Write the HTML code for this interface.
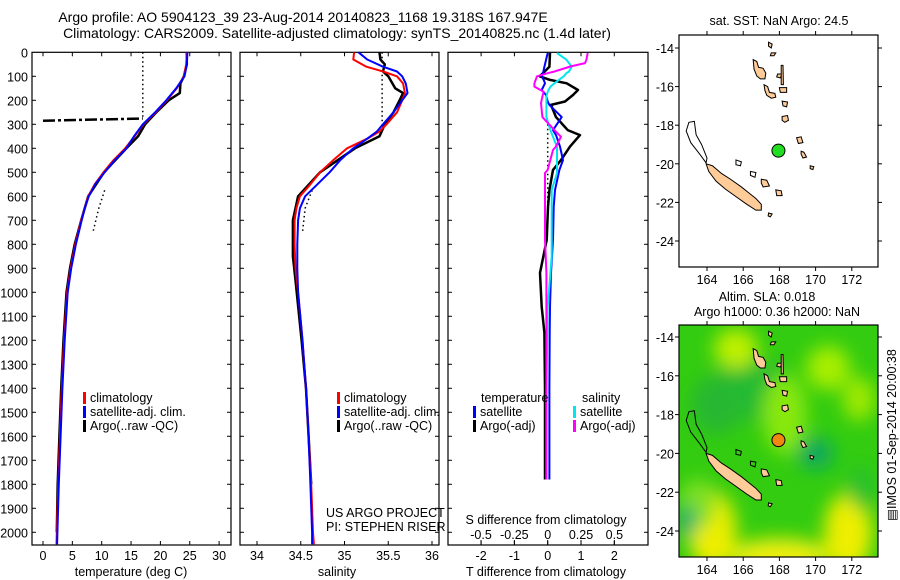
<!DOCTYPE html>
<html><head><meta charset="utf-8">
<style>
html,body{margin:0;padding:0;background:#fff;}
svg{display:block;font-family:"Liberation Sans",sans-serif;}
text{font-size:12.5px;fill:#000;}
</style></head>
<body>
<svg id="fig" width="900" height="580" viewBox="0 0 900 580" xmlns="http://www.w3.org/2000/svg">
<defs>
<filter id="blur" x="-50%" y="-50%" width="200%" height="200%"><feGaussianBlur stdDeviation="9"/></filter>
<clipPath id="clipMap2"><rect x="679" y="325" width="199" height="232"/></clipPath>
<clipPath id="clipMap1"><rect x="679" y="35" width="199" height="232"/></clipPath>
</defs>
<text x="303" y="22" text-anchor="middle" style="font-size:14px">Argo profile: AO 5904123_39 23-Aug-2014 20140823_1168 19.318S 167.947E</text>
<text x="337" y="38" text-anchor="middle" style="font-size:14px">Climatology: CARS2009. Satellite-adjusted climatology: synTS_20140825.nc (1.4d later)</text>
<g id="layer"></g>
</svg>
<script>
// ---------- data ----------
const depthT = [0,50,100,150,200,250,300,350,400,450,500,550,600,650,700,800,900,1000,1200,1400,1600,1800,2000,2050];
const tempClim = [24.5,24.4,24.0,22.8,21.1,19.2,17.1,15.6,14.0,12.0,10.3,8.8,7.7,7.1,6.5,5.5,4.7,4.1,3.6,3.2,2.9,2.6,2.35,2.3];
const tempSat  = [24.6,24.5,24.1,22.7,21.0,19.1,17.0,15.5,14.2,12.2,10.5,8.9,7.8,7.1,6.6,5.6,4.8,4.2,3.7,3.3,3.0,2.7,2.45,2.4];
const depthArgoT = [0,50,100,130,170,200,250,300,350,400,500,600,700,800,900,1000,1200,1400,1600,1800,2000];
const tempArgo = [24.5,24.5,24.0,23.4,23.3,21.4,19.3,17.4,16.2,14.2,10.4,7.7,6.5,5.4,4.6,4.0,3.5,3.1,2.8,2.5,2.35];
const depthS = [0,30,60,80,100,130,170,200,250,300,330,360,400,450,500,550,600,650,700,800,900,1000,1200,1400,1600,1800,2000,2050];
const salClim = [35.11,35.10,35.25,35.44,35.60,35.67,35.69,35.66,35.60,35.48,35.40,35.26,35.03,34.87,34.72,34.61,34.49,34.45,34.43,34.43,34.44,34.47,34.52,34.56,34.59,34.62,34.64,34.65];
const salSat  = [35.16,35.26,35.44,35.60,35.66,35.70,35.72,35.66,35.56,35.44,35.37,35.26,35.10,34.95,34.83,34.69,34.55,34.49,34.47,34.46,34.46,34.47,34.52,34.56,34.59,34.61,34.63,34.63];
const depthArgoS = [0,30,50,80,100,150,170,200,250,300,350,400,450,500,600,700,850,950,1200,1400,1600,1800];
const salArgo = [35.40,35.41,35.46,35.44,35.50,35.58,35.67,35.63,35.56,35.46,35.40,35.12,34.92,34.72,34.47,34.41,34.41,34.44,34.51,34.56,34.59,34.62];
const depthDiffT = [3,60,87,100,115,129,157,178,205,219,270,324,345,393,449,490,574,645,782,919,1061,1168,1400,1600,1780];
const diffTSat  = [0.0,-0.10,-0.14,-0.18,-0.12,-0.08,-0.18,-0.05,0.0,0.05,0.42,0.16,0.25,0.37,0.46,0.35,0.22,0.18,0.16,0.10,0.07,0.06,0.05,0.05,0.05];
const diffTArgo = [0.07,0.05,-0.14,-0.24,0.07,0.57,0.91,0.76,0.52,0.10,0.25,0.60,0.97,0.67,0.40,0.16,0.05,0.01,-0.03,-0.23,-0.18,-0.10,-0.08,-0.08,-0.08];
const depthDiffS = [3,31,45,59,80,87,100,129,143,164,184,212,270,324,352,394,407,490,503,574,645,782,850,919,1061,1400,1780];
const diffSSat  = [0.07,0.14,0.16,0.18,0.16,0.14,0.12,0.05,0.02,0.0,-0.01,-0.01,-0.01,0.02,0.04,0.07,0.07,0.07,0.07,0.03,0.03,0.03,0.03,0.02,0.0,-0.01,-0.01];
const diffSArgo = [0.30,0.29,0.28,0.17,0.05,0.0,-0.08,-0.10,-0.10,-0.03,-0.04,-0.05,-0.04,0.05,0.10,0.06,0.04,0.0,-0.02,-0.02,-0.02,-0.02,-0.015,-0.01,-0.01,-0.01,-0.01];
const tempTicks = [0,5,10,15,20,25,30];
const salTicks = [34,34.5,35,35.5,36];
const salTickLabels = ["34","34.5","35","35.5","36"];
const dTTicks = [-2,-1,0,1,2];
const dSTicks = [-0.5,-0.25,0,0.25,0.5];
const dSTickLabels = ["-0.5","-0.25","0","0.25","0.5"];
const depthTicks = [0,100,200,300,400,500,600,700,800,900,1000,1100,1200,1300,1400,1500,1600,1700,1800,1900,2000];
const lonTicks = [164,166,168,170,172];
const latTicks = [-14,-16,-18,-20,-22,-24];
const argoPos = [167.947,-19.318];

// ---------- scales ----------
const NS='http://www.w3.org/2000/svg';
const L=document.getElementById('layer');
const TOP=52.3, BOT=545;
const yD=d=>TOP+d*0.24;
const xT=t=>43+t*5.87;
const xS=s=>257+(s-34)*87.5;
const xDT=t=>547.7+t*33.3;
const xDS=s=>547.7+s*133.3;
const xLon=l=>707+(l-164)*18.1;
const yLat1=a=>48+(-14-a)*19.3;
const yLat2=a=>337+(-14-a)*19.4;

function mk(tag,attrs,parent){const e=document.createElementNS(NS,tag);for(const k in attrs)e.setAttribute(k,attrs[k]);(parent||L).appendChild(e);return e;}
function txt(x,y,s,anchor,parent){const e=mk('text',{x:x,y:y,'text-anchor':anchor||'start'},parent);e.textContent=s;return e;}
function series(xs,ds,xf){return xs.map((v,i)=>xf(v).toFixed(1)+','+yD(ds[i]).toFixed(1)).join(' ');}

// ---------- panels ----------
const panels=[{x0:32,x1:231,name:'temperature-panel'},{x0:240,x1:439,name:'salinity-panel'},{x0:448,x1:648,name:'difference-panel'}];
panels.forEach((p,i)=>{
  const r=mk('rect',{x:p.x0,y:TOP,width:p.x1-p.x0,height:BOT-TOP,fill:'none',stroke:'#000','stroke-width':1.2});
  
  
  depthTicks.forEach(d=>{
    if(d===0) return;
    mk('line',{x1:p.x0,x2:p.x0+4,y1:yD(d),y2:yD(d),stroke:'#000'});
    mk('line',{x1:p.x1-4,x2:p.x1,y1:yD(d),y2:yD(d),stroke:'#000'});
  });
});
depthTicks.forEach(d=>{
  const t=txt(28,yD(d)+5,String(d),'end');
  
  
});
function xTicks(ticks,labels,xf,ly){
  ticks.forEach((v,i)=>{
    const x=xf(v);
    mk('line',{x1:x,x2:x,y1:BOT-4,y2:BOT,stroke:'#000'});
    mk('line',{x1:x,x2:x,y1:TOP,y2:TOP+4,stroke:'#000'});
    const t=txt(x,ly,labels[i],'middle');
    
    
  });
}
xTicks(tempTicks,tempTicks.map(String),xT,560);
xTicks(salTicks,salTickLabels,xS,560);
xTicks(dTTicks,dTTicks.map(String),xDT,560);
dSTicks.forEach((v,i)=>{
  const x=xDS(v);
  mk('line',{x1:x,x2:x,y1:BOT-5,y2:BOT,stroke:'#000'});
  const t=txt(x,539,dSTickLabels[i],'middle');
  
  
});
let e;
e=txt(131,576,'temperature (deg C)','middle');
e=txt(337,576,'salinity','middle');
e=txt(546,576,'T difference from climatology','middle');
e=txt(546,524,'S difference from climatology','middle');

function dots(pts,name){const p=mk('polyline',{points:pts,fill:'none',stroke:'#000','stroke-width':1.5,'stroke-dasharray':'1.5,3'});}
dots([[17,0],[17,280]].map(a=>xT(a[0])+','+yD(a[1])).join(' '),'temperature-dotted-reference');
dots([[10.5,575],[9.5,650],[8.5,750]].map(a=>xT(a[0])+','+yD(a[1])).join(' '),'temperature-dotted-deep');
dots([[35.43,0],[35.43,320]].map(a=>xS(a[0])+','+yD(a[1])).join(' '),'salinity-dotted-reference');
dots([[34.63,575],[34.55,650],[34.52,750]].map(a=>xS(a[0])+','+yD(a[1])).join(' '),'salinity-dotted-deep');
dots([[0,300],[0,700]].map(a=>xDT(a[0])+','+yD(a[1])).join(' '),'difference-dotted-zero');

function line(pts,color,w,name){const p=mk('polyline',{points:pts,fill:'none',stroke:color,'stroke-width':w,'stroke-linejoin':'round'});return p;}
line(series(tempArgo,depthArgoT,xT),'#000',2.5,'temperature-argo-line');
line(series(tempClim,depthT,xT),'#ff0000',2,'temperature-climatology-line');
line(series(tempSat,depthT,xT),'#0000ff',2,'temperature-satellite-line');
const qc=line(xT(0)+','+yD(285)+' '+xT(17)+','+yD(276),'#000',2.5,'temperature-qc-spike');
qc.setAttribute('stroke-dasharray','12,3,3,3');
line(series(salArgo,depthArgoS,xS),'#000',2.5,'salinity-argo-line');
line(series(salClim,depthS,xS),'#ff0000',2,'salinity-climatology-line');
line(series(salSat,depthS,xS),'#0000ff',2,'salinity-satellite-line');
line(series(diffTArgo,depthDiffT,xDT),'#000',2.5,'t-diff-argo-line');
line(series(diffTSat,depthDiffT,xDT),'#0000ff',2,'t-diff-satellite-line');
line(series(diffSSat,depthDiffS,xDS),'#00e5ee',2,'s-diff-satellite-line');
line(series(diffSArgo,depthDiffS,xDS),'#ff00ff',2,'s-diff-argo-line');

function leg(x,y,color,label,name){const r=mk('rect',{x:x,y:y-10,width:3,height:12,fill:color});const t=txt(x+7,y,label);}
leg(83,402,'#ff0000','climatology','legend-temp-climatology');
leg(83,416,'#0000ff','satellite-adj. clim.','legend-temp-satellite');
leg(83,430,'#000','Argo(..raw -QC)','legend-temp-argo');
leg(337,402,'#ff0000','climatology','legend-sal-climatology');
leg(337,416,'#0000ff','satellite-adj. clim.','legend-sal-satellite');
leg(337,430,'#000','Argo(..raw -QC)','legend-sal-argo');
e=txt(481,402,'temperature');
e=txt(582,402,'salinity');
leg(473,416,'#0000ff','satellite','legend-tdiff-satellite');
leg(473,430,'#000','Argo(-adj)','legend-tdiff-argo');
leg(573,416,'#00e5ee','satellite','legend-sdiff-satellite');
leg(573,430,'#ff00ff','Argo(-adj)','legend-sdiff-argo');
e=txt(326,517,'US ARGO PROJECT');
e=txt(326,531,'PI: STEPHEN RISER');

// ---------- maps ----------
const islands=[
 [[163.95,-20.0],[164.3,-20.1],[164.8,-20.5],[165.3,-20.8],[165.9,-21.2],[166.3,-21.5],[166.7,-21.8],[167.0,-22.1],[167.0,-22.4],[166.7,-22.4],[166.2,-22.1],[165.6,-21.7],[165.0,-21.3],[164.5,-20.9],[164.1,-20.4]],
 [[166.55,-14.6],[166.75,-14.7],[166.85,-15.0],[167.1,-15.05],[167.25,-15.3],[167.2,-15.6],[166.95,-15.6],[166.75,-15.45],[166.6,-15.1]],
 [[167.15,-15.9],[167.35,-16.0],[167.45,-16.3],[167.75,-16.35],[167.8,-16.55],[167.55,-16.6],[167.3,-16.45],[167.2,-16.2]],
 [[168.15,-17.55],[168.45,-17.5],[168.5,-17.75],[168.3,-17.85],[168.15,-17.75]],
 [[168.95,-18.65],[169.2,-18.6],[169.3,-18.9],[169.05,-18.95]],
 [[169.2,-19.35],[169.35,-19.4],[169.5,-19.65],[169.3,-19.7],[169.2,-19.5]],
 [[167.0,-20.8],[167.3,-20.85],[167.45,-21.15],[167.1,-21.2],[167.0,-21.0]],
 [[167.8,-21.35],[168.1,-21.4],[168.15,-21.65],[167.85,-21.65]],
 [[167.4,-13.7],[167.6,-13.8],[167.55,-14.0],[167.4,-13.9]],
 [[167.55,-14.25],[167.8,-14.25],[167.7,-14.4],[167.5,-14.4]],
 [[167.9,-15.35],[168.15,-15.35],[168.05,-15.55],[167.85,-15.5]],
 [[168.1,-14.9],[168.2,-14.9],[168.22,-15.9],[168.1,-15.9]],
 [[168.0,-16.05],[168.4,-16.05],[168.4,-16.3],[168.05,-16.3]],
 [[168.15,-16.75],[168.45,-16.8],[168.4,-17.05],[168.2,-17.0]],
 [[167.4,-22.55],[167.6,-22.6],[167.5,-22.75],[167.38,-22.7]],
 [[169.7,-20.1],[169.9,-20.15],[169.85,-20.3],[169.7,-20.25]]
];
const reef=[[163.0,-17.85],[163.3,-17.8],[163.4,-18.5],[163.7,-19.0],[164.0,-19.7],[163.95,-19.95],[163.6,-19.5],[163.1,-18.9],[162.85,-18.3]];
const loops=[[[165.6,-19.8],[165.9,-19.9],[165.85,-20.1],[165.6,-20.05]],[[166.4,-20.4],[166.7,-20.45],[166.65,-20.7],[166.4,-20.6]]];
function drawMap(yLat,top,clip,dotColor,name,bg){
  const g=mk('g',{'clip-path':'url(#'+clip+')'});
  
  
  if(bg){
    mk('rect',{x:679,y:top,width:199,height:232,fill:'#33cc10'},g);
    const bg2=mk('g',{filter:'url(#blur)'},g);
    const blobs=[[166.5,-16.8,45,30,'#22bb30'],[164.5,-17.5,25,30,'#28b830'],[164.3,-24.0,24,40,'#eeee00'],[171.8,-24.1,24,40,'#eeee00'],[168,-25.3,50,18,'#eeee10'],[165.6,-14.6,22,20,'#c0f000'],[170.7,-15.6,22,22,'#a8ee00'],[172.4,-17.2,16,22,'#a0ea00'],[168.3,-18.0,22,40,'#88e810'],[163.5,-22.6,18,25,'#80e020'],[170.0,-20.0,18,16,'#10a860'],[162.9,-23.5,8,16,'#10a080'],[172.5,-21.8,12,22,'#28c030']];
    blobs.forEach(b=>mk('ellipse',{cx:xLon(b[0]),cy:yLat(b[1]),rx:b[2],ry:b[3],fill:b[4]},bg2));
  }
  islands.forEach(pl=>mk('polygon',{points:pl.map(p=>xLon(p[0])+','+yLat(p[1])).join(' '),fill:'#ffcc99',stroke:'#000','stroke-width':1},g));
  mk('polygon',{points:reef.map(p=>xLon(p[0])+','+yLat(p[1])).join(' '),fill:'none',stroke:'#000','stroke-width':1},g);
  loops.forEach(pl=>mk('polygon',{points:pl.map(p=>xLon(p[0])+','+yLat(p[1])).join(' '),fill:'none',stroke:'#000','stroke-width':1},g));
  const c=mk('circle',{cx:xLon(argoPos[0]),cy:yLat(argoPos[1]),r:6.5,fill:dotColor,stroke:'#000','stroke-width':1});
  
  
  const fr=mk('rect',{x:679,y:top,width:199,height:232,fill:'none',stroke:'#000','stroke-width':1.2});
  
  
  lonTicks.forEach(l=>{
    const x=xLon(l);
    mk('line',{x1:x,x2:x,y1:top-4,y2:top,stroke:'#000'});
    mk('line',{x1:x,x2:x,y1:top+232,y2:top+236,stroke:'#000'});
    const t=txt(x,top+249,String(l),'middle');
    
    
  });
  latTicks.forEach(a=>{
    const y=yLat(a);
    mk('line',{x1:675,x2:679,y1:y,y2:y,stroke:'#000'});
    mk('line',{x1:878,x2:882,y1:y,y2:y,stroke:'#000'});
    const t=txt(674,y+5,String(a),'end');
    
    
  });
}
drawMap(yLat1,35,'clipMap1','#22dd22','sst-map',false);
drawMap(yLat2,325,'clipMap2','#ee8811','sla-map',true);
e=txt(779,25,'sat. SST: NaN Argo: 24.5','middle');
e=txt(767,301,'Altim. SLA: 0.018','middle');
e=txt(777,316,'Argo h1000: 0.36 h2000: NaN','middle');
e=txt(0,0,'\u25A4IMOS 01-Sep-2014 20:00:38','middle');
e.setAttribute('transform','translate(896,435) rotate(-90)');


</script>
</body></html>
